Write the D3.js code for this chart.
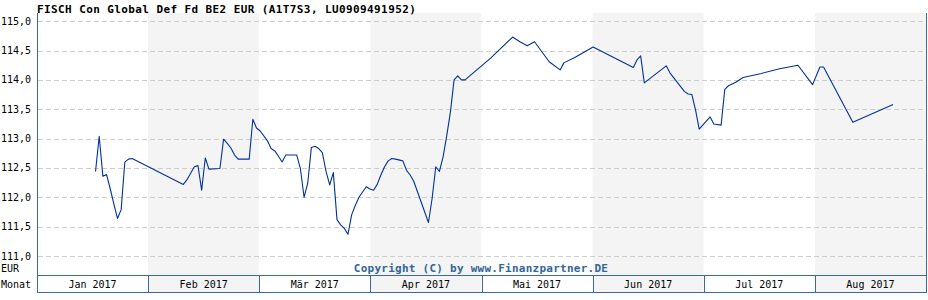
<!DOCTYPE html>
<html>
<head>
<meta charset="utf-8">
<script src="https://cdn.jsdelivr.net/npm/d3@7"></script>
<style>
  body { margin: 0; background: #fff; }
  text { font-family: "DejaVu Sans Mono", monospace; }
</style>
</head>
<body>
<div id="chart"></div>
<script>
// Chart data
var title = "FISCH Con Global Def Fd BE2 EUR (A1T7S3, LU0909491952)";
var months = ["Jan 2017", "Feb 2017", "Mär 2017", "Apr 2017", "Mai 2017", "Jun 2017", "Jul 2017", "Aug 2017"];
var yTicks = [111.0, 111.5, 112.0, 112.5, 113.0, 113.5, 114.0, 114.5, 115.0];

var dates = [
  "2017-01-17", "2017-01-18", "2017-01-19", "2017-01-20", "2017-01-21", "2017-01-22", "2017-01-23",
  "2017-01-24", "2017-01-25", "2017-01-26", "2017-01-27",
  "2017-02-10", "2017-02-11", "2017-02-13", "2017-02-14", "2017-02-15", "2017-02-16", "2017-02-17",
  "2017-02-20", "2017-02-21", "2017-02-22", "2017-02-23", "2017-02-24", "2017-02-25", "2017-02-28",
  "2017-03-01", "2017-03-02", "2017-03-03", "2017-03-05", "2017-03-06", "2017-03-07", "2017-03-08",
  "2017-03-09", "2017-03-10", "2017-03-13", "2017-03-14", "2017-03-15", "2017-03-16", "2017-03-17",
  "2017-03-18", "2017-03-19", "2017-03-20", "2017-03-21", "2017-03-22", "2017-03-23", "2017-03-24",
  "2017-03-25", "2017-03-26", "2017-03-27", "2017-03-28", "2017-03-29", "2017-03-30",
  "2017-04-01", "2017-04-02", "2017-04-03", "2017-04-04", "2017-04-05", "2017-04-06", "2017-04-07",
  "2017-04-08", "2017-04-09", "2017-04-11", "2017-04-12", "2017-04-13", "2017-04-14", "2017-04-18",
  "2017-04-19", "2017-04-20", "2017-04-21", "2017-04-22", "2017-04-23", "2017-04-24", "2017-04-25",
  "2017-04-26", "2017-04-27", "2017-04-28",
  "2017-05-05", "2017-05-11", "2017-05-13", "2017-05-15", "2017-05-17", "2017-05-21", "2017-05-24",
  "2017-05-25", "2017-05-28",
  "2017-06-02", "2017-06-13", "2017-06-14", "2017-06-15", "2017-06-16", "2017-06-22", "2017-06-23",
  "2017-06-27", "2017-06-28", "2017-06-29", "2017-06-30",
  "2017-07-01", "2017-07-04", "2017-07-05", "2017-07-07", "2017-07-08", "2017-07-09", "2017-07-11",
  "2017-07-13", "2017-07-18", "2017-07-23", "2017-07-28",
  "2017-08-01", "2017-08-03", "2017-08-04", "2017-08-12", "2017-08-23"
];
var prices = [
  112.44, 113.04, 112.36, 112.39, 112.15, 111.89, 111.64,
  111.79, 112.60, 112.65, 112.66,
  112.22, 112.30, 112.52, 112.54, 112.12, 112.67, 112.48,
  112.49, 112.99, 112.92, 112.84, 112.72, 112.65, 112.65,
  113.33, 113.18, 113.13, 112.96, 112.83, 112.79, 112.70,
  112.60, 112.72, 112.72, 112.49, 112.00, 112.24, 112.85,
  112.87, 112.83, 112.76, 112.44, 112.21, 112.42, 111.62,
  111.53, 111.47, 111.37, 111.70, 111.86, 112.00,
  112.18, 112.14, 112.12, 112.22, 112.38, 112.52, 112.62,
  112.66, 112.65, 112.62, 112.46, 112.38, 112.27, 111.57,
  111.98, 112.52, 112.44, 112.69, 113.05, 113.45, 114.00,
  114.07, 114.00, 114.00,
  114.37, 114.73, 114.65, 114.58, 114.65, 114.31, 114.17,
  114.29, 114.38,
  114.56, 114.21, 114.34, 114.41, 113.95, 114.24, 114.12,
  113.80, 113.76, 113.75, 113.49,
  113.16, 113.37, 113.25, 113.23, 113.84, 113.90, 113.96,
  114.04, 114.11, 114.19, 114.25,
  113.92, 114.22, 114.22, 113.28, 113.58
];

var width = 928, height = 300;
var plotLeft = 37, plotRight = 926, plotTop = 13, plotBottom = 275, rowBottom = 292;
var axisColor = "#3b6aa0";

var parse = d3.timeParse("%Y-%m-%d");
var data = dates.map(function(d, i) { return {date: parse(d), value: prices[i]}; });

var svg = d3.select("#chart")
  .append("svg")
  .attr("width", width)
  .attr("height", height);

// scales
var xBand = d3.scaleBand().domain(months).range([plotLeft, plotRight]);
var xTime = d3.scaleTime()
  .domain([new Date(2017, 0, 1), new Date(2017, 8, 1)])
  .range([plotLeft, plotRight]);
var yScale = d3.scaleLinear().domain([111, 115]).range([256, 21.2]);

// alternating month bands
svg.selectAll(".band")
  .data(months)
  .enter()
  .append("rect")
  .attr("x", function(d) { return xBand(d); })
  .attr("y", plotTop)
  .attr("width", xBand.bandwidth())
  .attr("height", rowBottom - plotTop)
  .attr("fill", function(d, i) { return i % 2 ? "#f4f4f4" : "#fff"; });

// dashed gridlines
svg.selectAll(".grid")
  .data(yTicks)
  .enter()
  .append("line")
  .attr("x1", plotLeft + 1)
  .attr("x2", plotRight)
  .attr("y1", function(d) { return Math.round(yScale(d)) + 0.5; })
  .attr("y2", function(d) { return Math.round(yScale(d)) + 0.5; })
  .attr("stroke", "#cccccc")
  .attr("stroke-dasharray", "5,3");

// y labels
var fmt = d3.format(".1f");
svg.selectAll(".ylab")
  .data(yTicks)
  .enter()
  .append("text")
  .attr("x", 1)
  .attr("y", function(d) { return yScale(d) + 3.5; })
  .style("font-size", "10px")
  .attr("fill", "#000")
  .text(function(d) { return fmt(d).replace(".", ","); });

// price line
var line = d3.line()
  .x(function(d) { return xTime(d.date); })
  .y(function(d) { return yScale(d.value); });

svg.append("path")
  .datum(data)
  .attr("fill", "none")
  .attr("stroke", "#003399")
  .attr("stroke-width", 1.1)
  .attr("stroke-linejoin", "round")
  .attr("d", line);

// month row
svg.selectAll(".mlab")
  .data(months)
  .enter()
  .append("text")
  .attr("x", function(d) { return xBand(d) + xBand.bandwidth() / 2; })
  .attr("y", 288)
  .attr("text-anchor", "middle")
  .style("font-size", "10px")
  .text(function(d) { return d; });

svg.selectAll(".msep")
  .data(months.slice(1))
  .enter()
  .append("line")
  .attr("x1", function(d) { return Math.round(xBand(d)) + 0.5; })
  .attr("x2", function(d) { return Math.round(xBand(d)) + 0.5; })
  .attr("y1", plotBottom)
  .attr("y2", rowBottom)
  .attr("stroke", axisColor);

svg.append("line")
  .attr("x1", plotLeft).attr("x2", plotRight + 1)
  .attr("y1", plotBottom + 0.5).attr("y2", plotBottom + 0.5)
  .attr("stroke", axisColor);
svg.append("line")
  .attr("x1", plotLeft).attr("x2", plotRight + 1)
  .attr("y1", rowBottom + 0.5).attr("y2", rowBottom + 0.5)
  .attr("stroke", axisColor);
svg.append("line")
  .attr("x1", plotLeft + 0.5).attr("x2", plotLeft + 0.5)
  .attr("y1", plotTop).attr("y2", rowBottom + 1)
  .attr("stroke", axisColor);
svg.append("line")
  .attr("x1", plotRight + 0.5).attr("x2", plotRight + 0.5)
  .attr("y1", plotTop).attr("y2", rowBottom + 1)
  .attr("stroke", axisColor);

// labels
svg.append("text")
  .attr("x", 1).attr("y", 272)
  .style("font-size", "10px")
  .text("EUR");
svg.append("text")
  .attr("x", 1).attr("y", 288)
  .style("font-size", "10px")
  .text("Monat");

svg.append("text")
  .attr("x", 37).attr("y", 12.5)
  .style("font-size", "11px")
  .style("font-weight", "bold")
  .style("letter-spacing", "0.4px")
  .text(title);

svg.append("text")
  .attr("x", 481).attr("y", 272)
  .attr("text-anchor", "middle")
  .attr("fill", "#336699")
  .style("font-size", "11px")
  .style("font-weight", "bold")
  .style("letter-spacing", "0.25px")
  .text("Copyright (C) by www.Finanzpartner.DE");
</script>
</body>
</html>
